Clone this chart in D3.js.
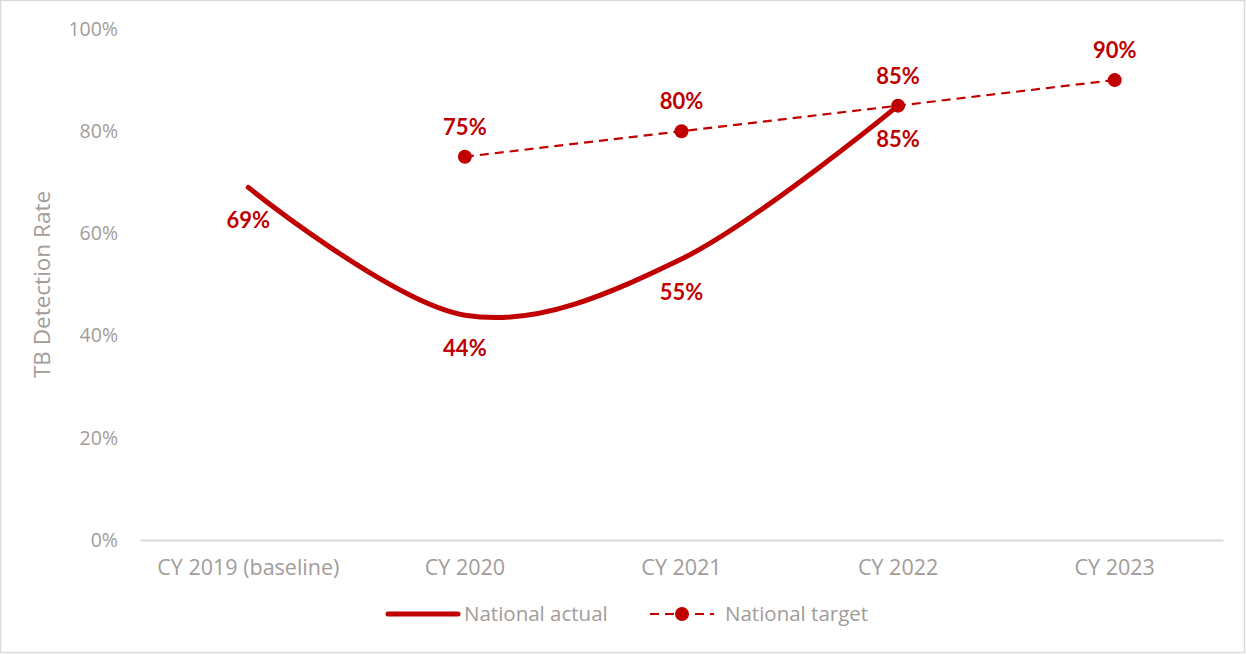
<!DOCTYPE html>
<html>
<head>
<meta charset="utf-8">
<script src="https://cdn.jsdelivr.net/npm/d3@7"></script>
<style>
  html, body { margin: 0; padding: 0; background: #fff; }
  svg { display: block; }
</style>
</head>
<body>
<svg id="chart" width="1247" height="655"></svg>
<script>
// TB detection rate: national actual vs. national target
const categories = ["CY 2019 (baseline)", "CY 2020", "CY 2021", "CY 2022", "CY 2023"];
const actualValues = [69, 44, 55, 85, null];
const targetValues = [null, 75, 80, 85, 90];
const yTicks = [0, 20, 40, 60, 80, 100];
const seriesNames = ["National actual", "National target"];

const W = 1247, H = 655;
const margin = { left: 140, right: 24, top: 29, bottom: 115 };
const red = "#c00000";
const grey = "#a29c99";
const font = "'Open Sans', 'Lato', sans-serif";
const labelFont = "'Lato', 'Open Sans', sans-serif";

const svg = d3.select("#chart");

// outer frame
svg.append("rect")
  .attr("x", 0.5).attr("y", 0.5)
  .attr("width", W - 3).attr("height", H - 3)
  .attr("fill", "#fff").attr("stroke", "#d9d9d9").attr("stroke-width", 1.5);

const x = d3.scaleBand().domain(categories).range([margin.left, W - margin.right]);
const y = d3.scaleLinear().domain([0, 100]).range([H - margin.bottom, margin.top]);
const cx = c => x(c) + x.bandwidth() / 2;

// y axis labels
const yAxis = svg.append("g")
  .attr("transform", `translate(${margin.left - 22},0)`)
  .call(d3.axisLeft(y).tickValues(yTicks).tickFormat(d => d + "%").tickSize(0).tickPadding(0));
yAxis.select(".domain").remove();
yAxis.selectAll("text").attr("fill", grey).style("font-family", font).style("font-size", "19.5px");

// x axis
const xAxis = svg.append("g")
  .attr("transform", `translate(0,${y(0)})`)
  .call(d3.axisBottom(x).tickSize(0).tickPadding(20));
xAxis.select(".domain").attr("stroke", "#d9d9d9").attr("stroke-width", 2);
xAxis.selectAll("text").attr("fill", grey).style("font-family", font).style("font-size", "21.5px");

// y axis title
svg.append("text")
  .attr("transform", `translate(50,${(y(0) + y(100)) / 2}) rotate(-90)`)
  .attr("text-anchor", "middle")
  .attr("fill", grey).style("font-family", font).style("font-size", "22.5px")
  .text("TB Detection Rate");

const actual = categories.map((c, i) => ({ c, v: actualValues[i] })).filter(d => d.v != null);
const target = categories.map((c, i) => ({ c, v: targetValues[i] })).filter(d => d.v != null);

// national actual: smoothed line
svg.append("path")
  .datum(actual)
  .attr("fill", "none").attr("stroke", red).attr("stroke-width", 5)
  .attr("stroke-linecap", "round")
  .attr("d", d3.line().x(d => cx(d.c)).y(d => y(d.v)).curve(d3.curveCardinal.tension(0)));

// national target: dashed line with markers
svg.append("path")
  .datum(target)
  .attr("fill", "none").attr("stroke", red).attr("stroke-width", 2.2)
  .attr("stroke-dasharray", "9,6")
  .attr("d", d3.line().x(d => cx(d.c)).y(d => y(d.v)));

svg.selectAll(".marker").data(target).join("circle")
  .attr("class", "marker")
  .attr("cx", d => cx(d.c)).attr("cy", d => y(d.v)).attr("r", 7)
  .attr("fill", red);

// data labels
const labelStyle = sel => sel
  .attr("text-anchor", "middle").attr("fill", red)
  .style("font-family", labelFont).style("font-size", "22px").style("font-weight", "bold");

svg.selectAll(".lab-actual").data(actual).join("text")
  .attr("class", "lab-actual")
  .attr("x", d => cx(d.c)).attr("y", d => y(d.v) + 41)
  .call(labelStyle).text(d => d.v + "%");

svg.selectAll(".lab-target").data(target).join("text")
  .attr("class", "lab-target")
  .attr("x", d => cx(d.c)).attr("y", d => y(d.v) - 22)
  .call(labelStyle).text(d => d.v + "%");

// legend
const lg = svg.append("g").attr("transform", "translate(0,614)");
lg.append("line").attr("x1", 388).attr("x2", 458).attr("y1", 0).attr("y2", 0)
  .attr("stroke", red).attr("stroke-width", 5).attr("stroke-linecap", "round");
lg.append("text").attr("x", 464).attr("y", 7).attr("fill", grey)
  .style("font-family", font).style("font-size", "20.5px").text(seriesNames[0]);
lg.append("line").attr("x1", 650).attr("x2", 714).attr("y1", 0).attr("y2", 0)
  .attr("stroke", red).attr("stroke-width", 2.2).attr("stroke-dasharray", "9,6");
lg.append("circle").attr("cx", 682).attr("cy", 0).attr("r", 7).attr("fill", red);
lg.append("text").attr("x", 725).attr("y", 7).attr("fill", grey)
  .style("font-family", font).style("font-size", "20.5px").text(seriesNames[1]);
</script>
</body>
</html>
